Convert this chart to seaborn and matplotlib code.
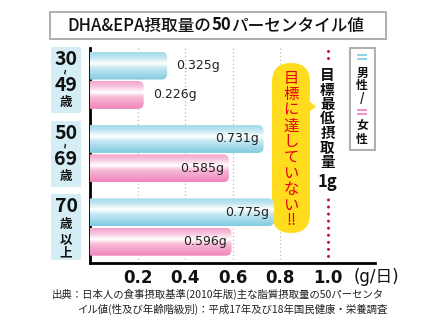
import numpy as np
import pandas as pd
import matplotlib
matplotlib.use("Agg")
import matplotlib.pyplot as plt
import seaborn as sns
from matplotlib.patches import Rectangle, FancyBboxPatch, Polygon
from matplotlib.colors import LinearSegmentedColormap, to_rgb
from matplotlib.transforms import blended_transform_factory

# ---------------- data ----------------
ages = ["30~49歳", "50~69歳", "70歳以上"]
age_lines = [["30", "~", "49", "歳"], ["50", "~", "69", "歳"], ["70", "歳", "以", "上"]]
sexes = ["男性", "女性"]
male = [0.325, 0.731, 0.775]
female = [0.226, 0.585, 0.596]
xticks = [0.2, 0.4, 0.6, 0.8, 1.0]
target = 1.0
title_parts = ["DHA&EPA摂取量の", "50", "パーセンタイル値"]
unit_label = "(g/日)"
target_text = ["目", "標", "最", "低", "摂", "取", "量"]
target_value = "1g"
callout_text = ["目", "標", "に", "達", "し", "て", "い", "な", "い", "!!"]
legend_text = [["男", "性"], ["女", "性"]]
source_lines = ["出典：日本人の食事摂取基準(2010年版)主な脂質摂取量の50パーセンタ",
                "イル値(性及び年齢階級別)：平成17年及び18年国民健康・栄養調査"]

# ---------------- style ----------------
base_colors = {"男性": "#8fd3e4", "女性": "#f195c4"}
grad_stops = {
    "男性": [(0.0, "#a3d9e8"), (0.18, "#bfe6f1"), (0.40, "#ffffff"), (0.58, "#c3e8f2"), (1.0, "#80cbe0")],
    "女性": [(0.0, "#f4a2ca"), (0.18, "#f8c2dc"), (0.40, "#ffffff"), (0.58, "#f7bad6"), (1.0, "#ee84bb")],
}

sns.set_theme(style="white")
plt.rcParams["font.family"] = ["Noto Sans CJK JP", "DejaVu Sans"]

df = pd.DataFrame({
    "age": ages * 2,
    "sex": [sexes[0]] * len(ages) + [sexes[1]] * len(ages),
    "value": male + female,
})

fig = plt.figure(figsize=(4.36, 3.28), dpi=100)
fig.patch.set_facecolor("white")
ax = fig.add_axes([90 / 436, 65 / 328, 285 / 436, 215 / 328])
ov = fig.add_axes([0, 0, 1, 1], zorder=-5)
ov.set_xlim(0, 436)
ov.set_ylim(328, 0)
ov.axis("off")
P = ov.transData

sns.barplot(data=df, x="value", y="age", hue="sex", order=ages, hue_order=sexes,
            palette=[base_colors[s] for s in sexes], orient="h", width=0.8, gap=0.05,
            errorbar=None, legend=False, ax=ax)
bars = list(ax.patches)

XLIM = (0, 1.2)
YLIM = (2.49, -0.44)
ax.set_xlim(*XLIM)
ax.set_ylim(*YLIM)
ax.set_facecolor("none")

# gradient "tube" bars clipped to rounded shapes derived from the seaborn bars
bb = ax.get_window_extent()
pxx = bb.width / (XLIM[1] - XLIM[0])
pxy = bb.height / abs(YLIM[0] - YLIM[1])
grad = np.linspace(0, 1, 128).reshape(-1, 1)
cmaps = {s: LinearSegmentedColormap.from_list(s, grad_stops[s]) for s in sexes}
for p in bars:
    fc = np.array(p.get_facecolor()[:3])
    sex = min(sexes, key=lambda s: np.abs(np.array(to_rgb(base_colors[s])) - fc).sum())
    x0, y0, w, h = p.get_x(), p.get_y(), p.get_width(), p.get_height()
    r = 6 / pxx
    clip = FancyBboxPatch((x0 - 0.05, y0), w + 0.05, h,
                          boxstyle=f"round,pad=0,rounding_size={r}",
                          mutation_aspect=pxx / pxy, transform=ax.transData)
    im = ax.imshow(grad, cmap=cmaps[sex], extent=(x0, x0 + w, y0 + h, y0), origin="upper",
                   aspect="auto", interpolation="bilinear", zorder=3)
    im.set_clip_path(clip)
    p.set_facecolor((0, 0, 0, 0))
    p.set_edgecolor("none")
    # value label
    yc = y0 + h / 2
    if w < 0.45:
        ax.annotate(f"{w:.3f}g", (w, yc), xytext=(9, 0), textcoords="offset pixels",
                    ha="left", va="center", fontsize=9, family="DejaVu Sans",
                    color="#222222", zorder=5)
    else:
        ax.annotate(f"{w:.3f}g", (w, yc), xytext=(-5, 0), textcoords="offset pixels",
                    ha="right", va="center", fontsize=9, family="DejaVu Sans",
                    color="#222222", zorder=5)

ax.set_xlim(*XLIM)
ax.set_ylim(*YLIM)

# axes styling
for s in ["top", "right"]:
    ax.spines[s].set_visible(False)
for s in ["left", "bottom"]:
    ax.spines[s].set_color("black")
    ax.spines[s].set_linewidth(2)
ax.set_xticks(xticks)
ax.set_xticklabels([f"{t:.1f}" for t in xticks], fontsize=12, fontweight="bold",
                   family="DejaVu Sans", color="#111111")
ax.tick_params(axis="x", length=0, pad=4)
ax.set_yticks([])
ax.set_xlabel("")
ax.set_ylabel("")

for t in xticks[:-1]:
    ax.axvline(t, color="#bdbdbd", lw=0.9, ls=(0, (1, 2)), zorder=0.5)

# target line (red dots)
red = "#c8102e"
ax.axvline(target, ymin=0, ymax=0.326, color=red, lw=2.2, ls=(0, (0.01, 2.3)),
           dash_capstyle="round", zorder=2)
ax.axvline(target, ymin=0.955, ymax=1.0, color=red, lw=2.2, ls=(0, (0.01, 2.3)),
           dash_capstyle="round", zorder=2)
tx = blended_transform_factory(ax.transData, P)
for i, ch in enumerate(target_text):
    ax.text(target, 75 + 14.5 * i, ch, transform=tx, ha="center", va="center",
            fontsize=10.5, fontweight="bold", color="#111111")
ax.text(target, 182, target_value, transform=tx, ha="center", va="center",
        fontsize=12, fontweight="bold", color="#111111")

# yellow callout
ax.add_patch(FancyBboxPatch((272, 63), 38, 170, boxstyle="round,pad=0,rounding_size=19",
                            transform=P, fc="#ffdc1e", ec="none", zorder=1.5, clip_on=False))
ax.add_patch(Polygon([(309, 101), (316, 106.5), (309, 112)], closed=True, transform=P,
                     fc="#ffdc1e", ec="none", zorder=1.5, clip_on=False))
for i, ch in enumerate(callout_text):
    ax.text(291, 78.5 + 15.8 * i, ch, transform=P, ha="center", va="center",
            fontsize=11, color="#e60012", zorder=4)

# legend box
ax.add_patch(Rectangle((350, 48), 25, 102, transform=P, fc="white", ec="#b0b0b0",
                       lw=1.5, clip_on=False, zorder=4))
for yy in (54, 58):
    ax.add_patch(Rectangle((357, yy), 10, 2, transform=P, fc=base_colors[sexes[0]],
                           ec="none", clip_on=False, zorder=5))
for yy in (109, 113):
    ax.add_patch(Rectangle((357, yy), 10, 2, transform=P, fc=base_colors[sexes[1]],
                           ec="none", clip_on=False, zorder=5))
for ch, yy in zip(legend_text[0] + ["/"] + legend_text[1], [73, 85, 99, 125, 139.5]):
    ax.text(362, yy, ch, transform=P, ha="center", va="center", fontsize=8.5,
            fontweight="bold", color="#111111", zorder=6)

# age group label boxes
ta = blended_transform_factory(P, ax.transData)
age_offsets = [[-0.29, -0.12, 0.07, 0.30], [-0.27, -0.11, 0.08, 0.31], [-0.28, -0.04, 0.18, 0.36]]
for gi, (lines, offs) in enumerate(zip(age_lines, age_offsets)):
    ax.add_patch(Rectangle((51, gi - 0.45), 30, 0.9, transform=ta, fc="#d5edf5",
                           ec="none", clip_on=False, zorder=1))
    for ln, off in zip(lines, offs):
        if ln.isdigit():
            kw = dict(fontsize=14, fontweight="bold")
        elif ln == "~":
            kw = dict(fontsize=7, fontweight="bold", rotation=90)
        else:
            kw = dict(fontsize=9, fontweight="bold")
        ax.text(66, gi + off, ln, transform=ta, ha="center", va="center",
                color="#111111", zorder=2, **kw)

# unit label
ax.text(376.5, 277, unit_label, transform=P, ha="center", va="center", fontsize=12,
        family=["DejaVu Sans", "Noto Sans CJK JP"], color="#111111")

# title box + title
ax.add_patch(Rectangle((50, 12), 336, 27, transform=P, fc="white", ec="#a8a8a8",
                       lw=1.3, clip_on=False, zorder=1))
renderer = fig.canvas.get_renderer()
tts = []
for part, wt in zip(title_parts, ["medium", "bold", "medium"]):
    tts.append(ax.text(0, 25.5, part, transform=P, fontsize=12, fontweight=wt,
                       ha="left", va="center", color="#111111", zorder=2))
widths = [t.get_window_extent(renderer).width for t in tts]
xx = 216 - sum(widths) / 2
for t, wdt in zip(tts, widths):
    t.set_x(xx)
    xx += wdt

# source
ax.text(52, 294, source_lines[0], transform=P, ha="left", va="center", fontsize=7.5,
        color="#222222")
ax.text(77, 309, source_lines[1], transform=P, ha="left", va="center", fontsize=7.5,
        color="#222222")

fig.savefig("out.png", dpi=100, facecolor="white")
